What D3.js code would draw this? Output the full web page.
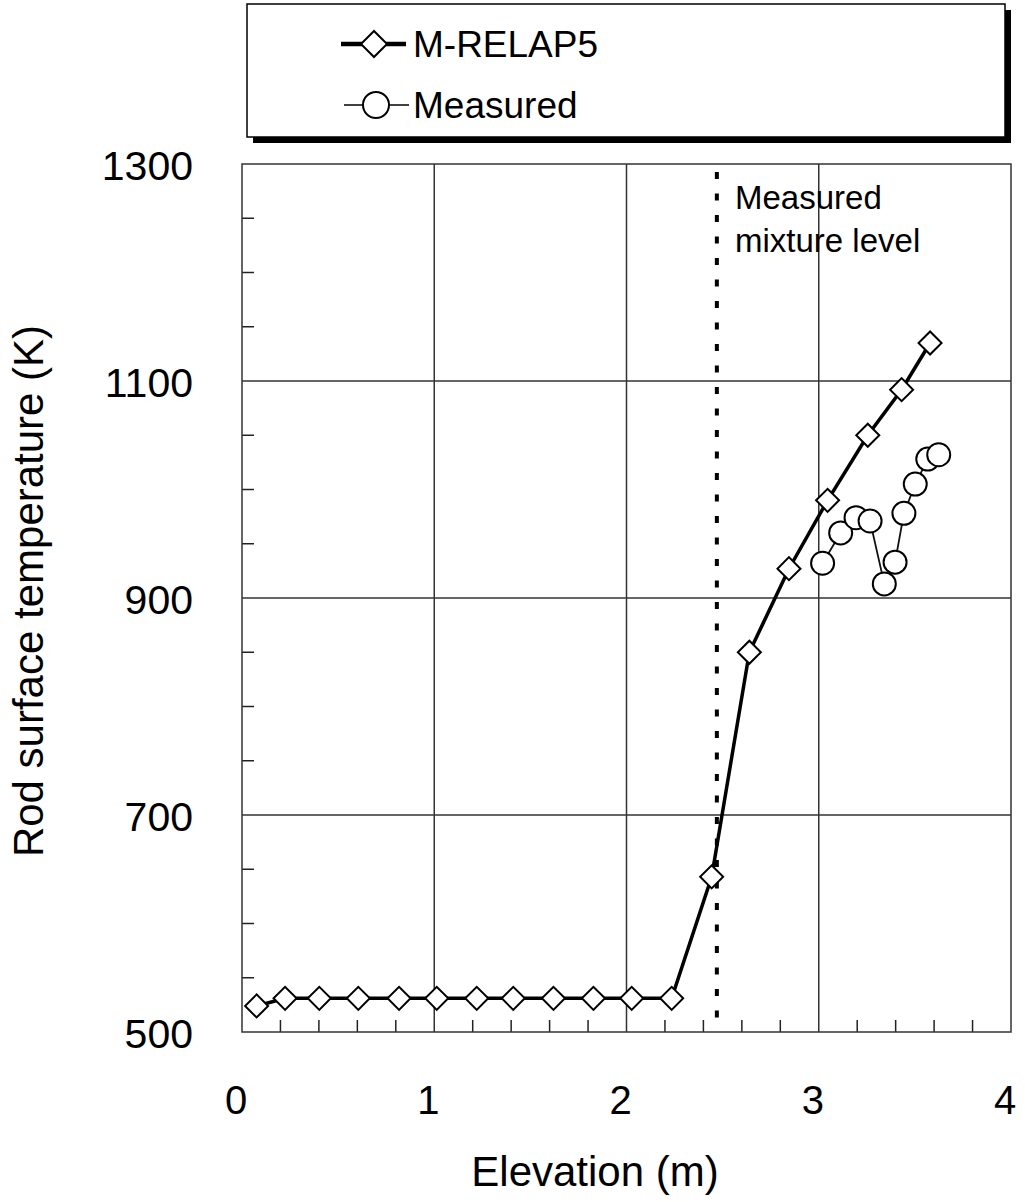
<!DOCTYPE html>
<html>
<head>
<meta charset="UTF-8" />
<style>
  body { margin: 0; background: #fff; }
  svg { display: block; }
  text { font-family: "Liberation Sans", Arial, sans-serif; fill: #000; }
</style>
</head>
<body>
<svg></svg>
<script src="https://cdn.jsdelivr.net/npm/d3@7"></script>
<script>
// M-RELAP5 calculation (elevation m, temperature K)
const relapX = [0.076, 0.224, 0.402, 0.605, 0.817, 1.013, 1.221, 1.411, 1.620, 1.828, 2.027, 2.235,
                2.443, 2.639, 2.845, 3.046, 3.255, 3.431, 3.579];
const relapT = [524, 531, 531, 531, 531, 531, 531, 531, 531, 531, 531, 531,
                643, 850, 927, 990, 1050, 1092, 1135];

// Measured
const measX = [3.020, 3.114, 3.194, 3.267, 3.341, 3.397, 3.443, 3.502, 3.567, 3.624];
const measT = [932, 960, 974, 971, 913, 933, 978, 1005, 1028, 1032];

const mixtureLevel = 2.47;

const xTicks = [0, 1, 2, 3, 4];
const yTicks = [500, 700, 900, 1100, 1300];

let width = 1025,
    height = 1202;

let svg = d3.select("svg").attr("width", width).attr("height", height);

let x = d3.scaleLinear().domain([0, 4]).range([242, 1011]);
let y = d3.scaleLinear().domain([500, 1300]).range([1032, 164]);

// grid lines
let grid = svg.append("g").attr("stroke", "#333").attr("stroke-width", 1.5);
grid.selectAll(".gx").data([1, 2, 3]).enter().append("line")
    .attr("x1", d => x(d)).attr("x2", d => x(d))
    .attr("y1", y(500)).attr("y2", y(1300));
grid.selectAll(".gy").data([700, 900, 1100]).enter().append("line")
    .attr("y1", d => y(d)).attr("y2", d => y(d))
    .attr("x1", x(0)).attr("x2", x(4));

// minor ticks (inside)
let minorX = d3.range(0.2, 4, 0.2).filter(v => Math.abs(v - Math.round(v)) > 0.01);
let minorY = d3.range(550, 1300, 50).filter(v => v % 200 != 100);
svg.append("g").attr("stroke", "#222").attr("stroke-width", 1.5)
    .selectAll("line").data(minorX).enter().append("line")
    .attr("x1", d => x(d)).attr("x2", d => x(d))
    .attr("y1", y(500)).attr("y2", y(500) - 12);
svg.append("g").attr("stroke", "#222").attr("stroke-width", 1.5)
    .selectAll("line").data(minorY).enter().append("line")
    .attr("y1", d => y(d)).attr("y2", d => y(d))
    .attr("x1", x(0)).attr("x2", x(0) + 12);

// frame
svg.append("rect")
    .attr("x", x(0)).attr("y", y(1300))
    .attr("width", x(4) - x(0)).attr("height", y(500) - y(1300))
    .attr("fill", "none").attr("stroke", "#333").attr("stroke-width", 1.5);

// measured mixture level
svg.append("line")
    .attr("x1", x(mixtureLevel)).attr("x2", x(mixtureLevel))
    .attr("y1", y(1300) + 8).attr("y2", y(500))
    .attr("stroke", "#000").attr("stroke-width", 4)
    .attr("stroke-dasharray", "7,14.5");
svg.append("text").attr("x", 735).attr("y", 209)
    .style("font-size", "33px").text("Measured");
svg.append("text").attr("x", 735).attr("y", 252)
    .style("font-size", "33px").text("mixture level");

// tick labels
svg.append("g").selectAll("text").data(xTicks).enter().append("text")
    .attr("x", d => x(d) - 6).attr("y", 1114)
    .attr("text-anchor", "middle").style("font-size", "40px")
    .text(d => d);
svg.append("g").selectAll("text").data(yTicks).enter().append("text")
    .attr("x", 193).attr("y", d => y(d) + 16)
    .attr("text-anchor", "end").style("font-size", "41px")
    .text(d => d);

// axis titles
svg.append("text").attr("x", 595).attr("y", 1186)
    .attr("text-anchor", "middle").style("font-size", "42px")
    .text("Elevation (m)");
svg.append("text")
    .attr("transform", "translate(43," + 591 + ") rotate(-90)")
    .attr("text-anchor", "middle").style("font-size", "42px")
    .text("Rod surface temperature (K)");

// series lines
let relap = relapX.map((v, i) => [v, relapT[i]]);
let meas = measX.map((v, i) => [v, measT[i]]);
let line = d3.line().x(d => x(d[0])).y(d => y(d[1]));

svg.append("path").datum(meas).attr("d", line)
    .attr("fill", "none").attr("stroke", "#111").attr("stroke-width", 1.8);
svg.append("path").datum(relap).attr("d", line)
    .attr("fill", "none").attr("stroke", "#000").attr("stroke-width", 3.5);

let diamond = d3.symbol().type(d3.symbolSquare).size(23 * 23 / 2);

svg.append("g").selectAll("path").data(relap).enter().append("path")
    .attr("d", diamond)
    .attr("transform", d => "translate(" + x(d[0]) + "," + y(d[1]) + ") rotate(45)")
    .attr("fill", "#fff").attr("stroke", "#000").attr("stroke-width", 2);

svg.append("g").selectAll("circle").data(meas).enter().append("circle")
    .attr("cx", d => x(d[0])).attr("cy", d => y(d[1])).attr("r", 11.5)
    .attr("fill", "#fff").attr("stroke", "#000").attr("stroke-width", 2);

// legend
let lg = svg.append("g");
lg.append("rect").attr("x", 253).attr("y", 10).attr("width", 758).attr("height", 133)
    .attr("fill", "#000");
lg.append("rect").attr("x", 247).attr("y", 4).attr("width", 758).attr("height", 133)
    .attr("fill", "#fff").attr("stroke", "#000").attr("stroke-width", 1.5);

lg.append("line").attr("x1", 341).attr("x2", 406).attr("y1", 44).attr("y2", 44)
    .attr("stroke", "#000").attr("stroke-width", 4.5);
lg.append("path").attr("d", d3.symbol().type(d3.symbolSquare).size(26 * 26 / 2))
    .attr("transform", "translate(374,44) rotate(45)")
    .attr("fill", "#fff").attr("stroke", "#000").attr("stroke-width", 2);
lg.append("text").attr("x", 413).attr("y", 57).style("font-size", "37px")
    .text("M-RELAP5");

lg.append("line").attr("x1", 344).attr("x2", 409).attr("y1", 105).attr("y2", 105)
    .attr("stroke", "#000").attr("stroke-width", 1.5);
lg.append("circle").attr("cx", 376).attr("cy", 105).attr("r", 13)
    .attr("fill", "#fff").attr("stroke", "#000").attr("stroke-width", 2);
lg.append("text").attr("x", 413).attr("y", 118).style("font-size", "37px")
    .text("Measured");
</script>
</body>
</html>
